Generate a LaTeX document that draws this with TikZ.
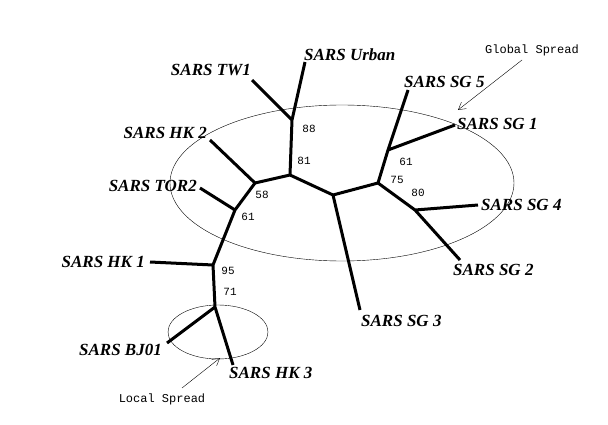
\documentclass[tikz,border=0pt]{standalone}
\usepackage{fontspec}
\usetikzlibrary{arrows.meta}
\setmainfont{Liberation Serif}
\newfontfamily\monof{Liberation Mono}
\begin{document}
\begin{tikzpicture}[x=1pt,y=-1pt,
  br/.style={line width=3pt},
  lab/.style={font=\bfseries\itshape\fontsize{17}{17}\selectfont,inner sep=1pt},
  num/.style={font=\monof\fontsize{11}{11}\selectfont,inner sep=1pt},
  ann/.style={font=\monof\fontsize{12}{12}\selectfont,inner sep=1pt}]
\useasboundingbox (0,0) rectangle (608,425);
\fill[white] (0,0) rectangle (608,425);
\coordinate (C) at (333,195);
\coordinate (A) at (290,175);
\coordinate (U) at (292,120);
\coordinate (L58) at (255,183);
\coordinate (L61) at (235,210);
\coordinate (N95) at (213,265);
\coordinate (N71) at (215,307);
\coordinate (B) at (378,183);
\coordinate (R61) at (388,150);
\coordinate (R80) at (415,210);
\node[lab,anchor=south west] (urban) at (303,62) {SARS Urban};
\node[lab,anchor=east] (tw1) at (252,70) {SARS TW1};
\node[lab,anchor=east] (hk2) at (208,133) {SARS HK 2};
\node[lab,anchor=east] (tor2) at (198,186) {SARS TOR2};
\node[lab,anchor=east] (hk1) at (146,262) {SARS HK 1};
\node[lab,anchor=east] (bj01) at (163,350) {SARS BJ01};
\node[lab,anchor=north west] (hk3) at (228,366) {SARS HK 3};
\node[lab,anchor=north west] (sg3) at (360,314) {SARS SG 3};
\node[lab,anchor=west] (sg5) at (403,82) {SARS SG 5};
\node[lab,anchor=west] (sg1) at (456,124) {SARS SG 1};
\node[lab,anchor=west] (sg4) at (480,205) {SARS SG 4};
\node[lab,anchor=west] (sg2) at (452,270) {SARS SG 2};
\draw[br] (C)--(A) (A)--(U) (U)--(305,62) (U)--(252,80)
  (A)--(L58) (L58)--(210,140) (L58)--(L61) (L61)--(200,188)
  (L61)--(N95) (N95)--(150,262) (N95)--(N71) (N71)--(167,343) (N71)--(233,365)
  (C)--(360,310) (C)--(B) (B)--(R61) (R61)--(408,90) (R61)--(455,125)
  (B)--(R80) (R80)--(478,205) (R80)--(460,260);
\node[num] (n88) at (309,129) {88};
\node[num] (n81) at (304,161) {81};
\node[num] (n58) at (262,195) {58};
\node[num] (n61a) at (248,217) {61};
\node[num] (n95) at (228,271) {95};
\node[num] (n71) at (230,292) {71};
\node[num] (n61b) at (406,162) {61};
\node[num] (n75) at (397,180) {75};
\node[num] (n80) at (418,193) {80};
\draw[thin] (342,183) ellipse [x radius=172, y radius=78];
\draw[thin] (218,332) ellipse [x radius=50, y radius=27];
\node[ann] (gs) at (532,50) {Global Spread};
\node[ann] (ls) at (162,399) {Local Spread};
\coordinate (ge) at (458,110);
\coordinate (le) at (220,358);
\draw[thin,-{Straight Barb[length=7pt,width=8pt]}] (522,60) -- (ge);
\draw[thin,-{Straight Barb[length=7pt,width=8pt]}] (182,388) -- (le);
\end{tikzpicture}
\end{document}
